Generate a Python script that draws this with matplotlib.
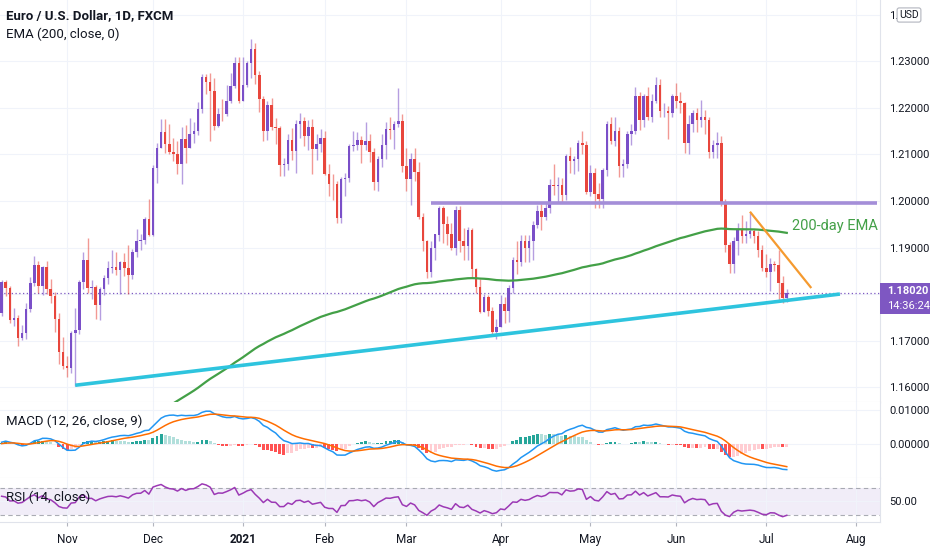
import numpy as np
import pandas as pd
import matplotlib
matplotlib.use("Agg")
import matplotlib.pyplot as plt
from matplotlib.patches import Rectangle
from matplotlib.ticker import FormatStrFormatter, FuncFormatter

# EUR/USD daily candles, FXCM, 9 Oct 2020 .. 8 Jul 2021 (one value per trading day)
opens = [
    1.1760, 1.1826, 1.1814, 1.1745, 1.1748, 1.1705, 1.1717, 1.1768, 1.1823, 1.1862, 1.1817, 1.1859, 1.1811, 1.1795, 1.1747, 1.1675,
    1.1646, 1.1641, 1.1716, 1.1723, 1.1826, 1.1874, 1.1813, 1.1816, 1.1776, 1.1810, 1.1834, 1.1855, 1.1859, 1.1852, 1.1868, 1.1857, 1.1842, 1.1890, 1.1915, 1.1916, 1.1962,
    1.1927, 1.2072, 1.2114, 1.2148, 1.2122, 1.2105, 1.2100, 1.2080, 1.2133, 1.2114, 1.2145, 1.2150, 1.2197, 1.2266, 1.2256, 1.2236, 1.2161, 1.2188, 1.2186, 1.2214, 1.2248, 1.2297,
    1.2215, 1.2250, 1.2297, 1.2326, 1.2271, 1.2220, 1.2151, 1.2207, 1.2158, 1.2156, 1.2078, 1.2079, 1.2131, 1.2107, 1.2165, 1.2172, 1.2140, 1.2160, 1.2111, 1.2123,
    1.2136, 1.2059, 1.2037, 1.2036, 1.1963, 1.2047, 1.2049, 1.2118, 1.2120, 1.2132, 1.2120, 1.2130, 1.2105, 1.2040, 1.2090, 1.2120, 1.2155, 1.2152, 1.2166, 1.2173,
    1.2075, 1.2048, 1.2090, 1.2063, 1.1965, 1.1915, 1.1848, 1.1900, 1.1928, 1.1985, 1.1951, 1.1930, 1.1900, 1.1980, 1.1915, 1.1904, 1.1938, 1.1853, 1.1815, 1.1762, 1.1794, 1.1763, 1.1718,
    1.1730, 1.1778, 1.1763, 1.1812, 1.1873, 1.1868, 1.1915, 1.1900, 1.1913, 1.1948, 1.1978, 1.1965, 1.1984, 1.2035, 1.2033, 1.2034, 1.2012, 1.2097, 1.2085, 1.2091, 1.2124, 1.2120,
    1.2019, 1.2061, 1.2015, 1.2005, 1.2066, 1.2165, 1.2130, 1.2150, 1.2075, 1.2080, 1.2145, 1.2150, 1.2225, 1.2175, 1.2226, 1.2180, 1.2215, 1.2250, 1.2193, 1.2193, 1.2190,
    1.2225, 1.2215, 1.2210, 1.2125, 1.2165, 1.2190, 1.2175, 1.2180, 1.2175, 1.2105, 1.2121, 1.2125, 1.1995, 1.1905, 1.1864, 1.1915, 1.1940, 1.1925, 1.1930, 1.1935, 1.1925, 1.1895,
    1.1857, 1.1848, 1.1865, 1.1862, 1.1823, 1.1791,
]
highs = [
    1.1831, 1.1830, 1.1817, 1.1771, 1.1754, 1.1734, 1.1780, 1.1837, 1.1881, 1.1871, 1.1860, 1.1871, 1.1833, 1.1805, 1.1760, 1.1707,
    1.1667, 1.1720, 1.1770, 1.1830, 1.1891, 1.1920, 1.1830, 1.1820, 1.1815, 1.1840, 1.1870, 1.1894, 1.1890, 1.1870, 1.1888, 1.1906, 1.1897, 1.1940, 1.1930, 1.1965, 1.2004,
    1.2077, 1.2125, 1.2176, 1.2177, 1.2166, 1.2135, 1.2128, 1.2160, 1.2164, 1.2178, 1.2170, 1.2212, 1.2273, 1.2272, 1.2275, 1.2265, 1.2200, 1.2220, 1.2250, 1.2276, 1.2310, 1.2309,
    1.2310, 1.2300, 1.2349, 1.2339, 1.2279, 1.2225, 1.2215, 1.2222, 1.2178, 1.2162, 1.2092, 1.2145, 1.2157, 1.2175, 1.2190, 1.2180, 1.2175, 1.2177, 1.2143, 1.2155,
    1.2150, 1.2079, 1.2058, 1.2043, 1.2051, 1.2060, 1.2122, 1.2150, 1.2148, 1.2140, 1.2169, 1.2145, 1.2114, 1.2097, 1.2143, 1.2169, 1.2180, 1.2171, 1.2243, 1.2188,
    1.2113, 1.2104, 1.2113, 1.2084, 1.1975, 1.1917, 1.1913, 1.1929, 1.1990, 1.1990, 1.1968, 1.1952, 1.1989, 1.1990, 1.1942, 1.1945, 1.1941, 1.1857, 1.1832, 1.1800, 1.1799, 1.1773, 1.1746,
    1.1797, 1.1793, 1.1820, 1.1880, 1.1914, 1.1927, 1.1928, 1.1928, 1.1958, 1.1991, 1.1994, 1.1995, 1.2048, 1.2079, 1.2052, 1.2049, 1.2100, 1.2116, 1.2096, 1.2132, 1.2150, 1.2128,
    1.2077, 1.2070, 1.2039, 1.2070, 1.2173, 1.2181, 1.2181, 1.2160, 1.2090, 1.2150, 1.2166, 1.2245, 1.2234, 1.2230, 1.2245, 1.2230, 1.2266, 1.2262, 1.2210, 1.2205, 1.2229,
    1.2254, 1.2235, 1.2213, 1.2184, 1.2195, 1.2200, 1.2218, 1.2195, 1.2180, 1.2132, 1.2148, 1.2140, 1.2005, 1.1912, 1.1922, 1.1953, 1.1970, 1.1957, 1.1975, 1.1940, 1.1935, 1.1905,
    1.1886, 1.1877, 1.1870, 1.1895, 1.1839, 1.1810,
]
lows = [
    1.1752, 1.1795, 1.1738, 1.1731, 1.1689, 1.1702, 1.1703, 1.1761, 1.1818, 1.1802, 1.1797, 1.1801, 1.1780, 1.1718, 1.1650, 1.1640,
    1.1622, 1.1631, 1.1602, 1.1715, 1.1810, 1.1802, 1.1790, 1.1746, 1.1745, 1.1797, 1.1821, 1.1845, 1.1840, 1.1801, 1.1838, 1.1800, 1.1832, 1.1880, 1.1895, 1.1908, 1.1925,
    1.1925, 1.2039, 1.2114, 1.2103, 1.2100, 1.2085, 1.2058, 1.2036, 1.2081, 1.2114, 1.2125, 1.2141, 1.2190, 1.2231, 1.2129, 1.2153, 1.2160, 1.2172, 1.2182, 1.2210, 1.2243, 1.2211,
    1.2215, 1.2245, 1.2265, 1.2252, 1.2191, 1.2130, 1.2132, 1.2153, 1.2123, 1.2054, 1.2054, 1.2066, 1.2088, 1.2060, 1.2135, 1.2118, 1.2109, 1.2058, 1.2088, 1.2105,
    1.2055, 1.2011, 1.2003, 1.1953, 1.1952, 1.2010, 1.2040, 1.2108, 1.2110, 1.2082, 1.2110, 1.2084, 1.2023, 1.2022, 1.2074, 1.2091, 1.2133, 1.2112, 1.2159, 1.2062,
    1.2022, 1.1991, 1.2043, 1.1962, 1.1892, 1.1835, 1.1836, 1.1873, 1.1913, 1.1910, 1.1905, 1.1895, 1.1883, 1.1890, 1.1873, 1.1874, 1.1835, 1.1803, 1.1760, 1.1762, 1.1753, 1.1712, 1.1704,
    1.1730, 1.1738, 1.1740, 1.1803, 1.1844, 1.1860, 1.1868, 1.1868, 1.1873, 1.1943, 1.1937, 1.1960, 1.1974, 1.2012, 1.1995, 1.1995, 1.2002, 1.2060, 1.2058, 1.2065, 1.2100, 1.2016,
    1.2010, 1.1986, 1.1985, 1.1985, 1.2053, 1.2122, 1.2119, 1.2051, 1.2052, 1.2071, 1.2120, 1.2145, 1.2152, 1.2160, 1.2175, 1.2170, 1.2210, 1.2180, 1.2180, 1.2133, 1.2180,
    1.2200, 1.2190, 1.2103, 1.2100, 1.2148, 1.2148, 1.2160, 1.2145, 1.2093, 1.2093, 1.2092, 1.1990, 1.1890, 1.1846, 1.1846, 1.1885, 1.1910, 1.1910, 1.1920, 1.1910, 1.1880, 1.1850,
    1.1837, 1.1807, 1.1850, 1.1782, 1.1781, 1.1782,
]
closes = [
    1.1826, 1.1814, 1.1745, 1.1748, 1.1705, 1.1717, 1.1768, 1.1823, 1.1862, 1.1817, 1.1859, 1.1811, 1.1795, 1.1747, 1.1675, 1.1646,
    1.1641, 1.1716, 1.1723, 1.1826, 1.1874, 1.1813, 1.1816, 1.1776, 1.1810, 1.1834, 1.1855, 1.1859, 1.1852, 1.1868, 1.1857, 1.1842, 1.1890, 1.1915, 1.1916, 1.1962, 1.1927,
    1.2072, 1.2114, 1.2148, 1.2122, 1.2105, 1.2100, 1.2080, 1.2133, 1.2114, 1.2145, 1.2150, 1.2197, 1.2266, 1.2256, 1.2236, 1.2161, 1.2188, 1.2186, 1.2214, 1.2248, 1.2297, 1.2215,
    1.2250, 1.2297, 1.2326, 1.2271, 1.2220, 1.2151, 1.2207, 1.2158, 1.2156, 1.2078, 1.2079, 1.2131, 1.2107, 1.2165, 1.2172, 1.2140, 1.2160, 1.2111, 1.2123, 1.2136,
    1.2059, 1.2037, 1.2036, 1.1963, 1.2047, 1.2049, 1.2118, 1.2120, 1.2132, 1.2120, 1.2130, 1.2105, 1.2040, 1.2090, 1.2120, 1.2155, 1.2152, 1.2166, 1.2173, 1.2075,
    1.2048, 1.2090, 1.2063, 1.1965, 1.1915, 1.1848, 1.1900, 1.1928, 1.1985, 1.1951, 1.1930, 1.1900, 1.1980, 1.1915, 1.1904, 1.1938, 1.1853, 1.1815, 1.1762, 1.1794, 1.1763, 1.1718, 1.1730,
    1.1778, 1.1763, 1.1812, 1.1873, 1.1868, 1.1915, 1.1900, 1.1913, 1.1948, 1.1978, 1.1965, 1.1984, 1.2035, 1.2033, 1.2034, 1.2012, 1.2097, 1.2085, 1.2091, 1.2124, 1.2120, 1.2019,
    1.2061, 1.2015, 1.2005, 1.2066, 1.2165, 1.2130, 1.2150, 1.2075, 1.2080, 1.2145, 1.2150, 1.2225, 1.2175, 1.2226, 1.2180, 1.2215, 1.2250, 1.2193, 1.2193, 1.2190, 1.2225,
    1.2215, 1.2210, 1.2125, 1.2165, 1.2190, 1.2175, 1.2180, 1.2175, 1.2105, 1.2121, 1.2125, 1.1995, 1.1905, 1.1864, 1.1915, 1.1940, 1.1925, 1.1930, 1.1935, 1.1925, 1.1895, 1.1857,
    1.1848, 1.1865, 1.1862, 1.1823, 1.1791, 1.1802,
]

# indicator state carried in from before the visible window
ema200_start = 1.1405
ema12_start = 1.1760
ema26_start = 1.1760
rsi_gain_start = 0.0025
rsi_loss_start = 0.0022

# drawings on the chart: (date, price)
support_line = [("2020-11-04", 1.1604), ("2021-07-27", 1.1800)]
resistance_line = [("2021-03-09", 1.1995), ("2021-08-09", 1.1995)]
falling_line = [("2021-06-25", 1.1977), ("2021-07-16", 1.1813)]

month_starts = ["2020-11-01", "2020-12-01", "2021-01-01", "2021-02-01", "2021-03-01",
                "2021-04-01", "2021-05-01", "2021-06-01", "2021-07-01", "2021-08-01"]
month_labels = ["Nov", "Dec", "2021", "Feb", "Mar", "Apr", "May", "Jun", "Jul", "Aug"]
price_ticks = [1.16, 1.17, 1.18, 1.19, 1.20, 1.21, 1.22, 1.23, 1.24]

# trading calendar (FXCM skips Christmas and New Year)
dates = pd.bdate_range("2020-10-09", "2021-09-30")
dates = dates[~dates.isin(pd.to_datetime(["2020-12-25", "2021-01-01"]))]
n = len(closes)
xs = np.arange(n)


def bar_of(day):
    return int(np.searchsorted(dates, pd.Timestamp(day)))


def ema(values, span, start):
    a = 2.0 / (span + 1)
    out, prev = [], start
    for v in values:
        prev = prev + a * (v - prev)
        out.append(prev)
    return np.array(out)


def rsi(values, first_open, length, g0, l0):
    ag, al, prev = g0, l0, first_open
    out = []
    for v in values:
        ch = v - prev
        ag = (ag * (length - 1) + max(ch, 0)) / length
        al = (al * (length - 1) + max(-ch, 0)) / length
        out.append(100 - 100 / (1 + ag / al))
        prev = v
    return np.array(out)


def price_label(v, pos):
    # 1.18 sits under the last-price tag, 1.24 under the currency badge
    if abs(v - 1.18) < 1e-6:
        return ""
    if abs(v - 1.24) < 1e-6:
        return "1."
    return f"{v:.5f}"


o = np.array(opens)
h = np.array(highs)
l = np.array(lows)
c = np.array(closes)

ema200 = ema(c, 200, ema200_start)
macd = ema(c, 12, ema12_start) - ema(c, 26, ema26_start)
signal = ema(macd, 9, 0.0)
hist = macd - signal
rsi14 = rsi(c, opens[0], 14, rsi_gain_start, rsi_loss_start)

plt.rcParams["font.family"] = ["Liberation Sans Narrow", "Roboto", "DejaVu Sans"]
W, H = 932, 550
fig = plt.figure(figsize=(W / 100, H / 100), dpi=100)
fig.patch.set_facecolor("white")

pw = 880 / W
ax = fig.add_axes([0, (H - 402) / H, pw, 402 / H])
axm = fig.add_axes([0, (H - 478) / H, pw, 76 / H], sharex=ax)
axr = fig.add_axes([0, (H - 522) / H, pw, 44 / H], sharex=ax)

sep = "#e0e3eb"
grid = "#f0f3fa"
txt = "#131722"
tick_x = [bar_of(d) for d in month_starts]

for a in (ax, axm, axr):
    for s in ("top", "left"):
        a.spines[s].set_visible(False)
    a.spines["right"].set_color(sep)
    a.spines["bottom"].set_color(sep)
    a.yaxis.tick_right()
    a.tick_params(axis="y", length=0, pad=6.5, labelsize=8, colors=txt)
    a.set_xticks(tick_x)
    a.grid(True, color=grid, lw=0.8)
    a.set_axisbelow(True)

ax.set_xlim(-0.4, 214.8)
ax.tick_params(axis="x", length=0, labelbottom=False)
axm.tick_params(axis="x", length=0, labelbottom=False)
axr.tick_params(axis="x", length=3, color="#b2b5be", pad=5, labelsize=8.5, colors=txt)
axr.set_xticklabels(month_labels)
for lab in axr.get_xticklabels():
    if lab.get_text() == "2021":
        lab.set_fontweight("bold")

# ---- price panel ----
ax.set_ylim(1.1568, 1.2432)
ax.set_yticks(price_ticks)
ax.yaxis.set_major_formatter(FuncFormatter(price_label))

up = c >= o
up_col, dn_col = "#7a4fc8", "#e8463c"
cols = np.where(up, up_col, dn_col)
ax.vlines(xs, l, h, colors=cols, lw=1.0, alpha=0.55, zorder=2)
body_lo = np.minimum(o, c)
body_h = np.maximum(np.abs(c - o), 0.00015)
ax.bar(xs, body_h, bottom=body_lo, width=0.62, color=cols, lw=0, zorder=3)

ax.plot(xs, ema200, color="#43a047", lw=1.6, zorder=4)

for line, col, lw in ((support_line, "#2ec4de", 2.6),
                      (resistance_line, "#a48ed8", 2.6),
                      (falling_line, "#f59a2f", 1.6)):
    ax.plot([bar_of(line[0][0]), bar_of(line[1][0])], [line[0][1], line[1][1]],
            color=col, lw=lw, solid_capstyle="butt", zorder=5)

ax.axhline(c[-1], color="#7e57c2", lw=0.9, ls=(0, (1, 2)), zorder=1)
ax.text(n + 0.2, 1.1946, "200-day EMA", color="#43a047", fontsize=10.5,
        va="center", ha="left", zorder=6)

# ---- MACD panel ----
axm.set_ylim(-0.0100, 0.01235)
axm.set_yticks([0.0, 0.01])
axm.yaxis.set_major_formatter(FormatStrFormatter("%.5f"))
prev_h = np.concatenate([[0.0], hist[:-1]])
hcols = np.where(hist >= 0,
                 np.where(hist >= prev_h, "#26a69a", "#b2dfdb"),
                 np.where(hist < prev_h, "#ff5252", "#ffcdd2"))
axm.bar(xs, hist, width=0.72, color=hcols, lw=0, zorder=2)
axm.plot(xs, macd, color="#2196f3", lw=1.1, zorder=3)
axm.plot(xs, signal, color="#ff6d00", lw=1.1, zorder=3)

# ---- RSI panel ----
axr.set_ylim(19.6, 84.8)
axr.set_yticks([50])
axr.yaxis.set_major_formatter(FormatStrFormatter("%.2f"))
axr.axhspan(30, 70, color="#7e57c2", alpha=0.1, lw=0, zorder=0)
for lvl in (30, 70):
    axr.axhline(lvl, color="#9598a1", lw=0.8, ls=(0, (4, 3)), alpha=0.8, zorder=1)
axr.plot(xs, rsi14, color="#9c39b5", lw=1.1, zorder=3)

# ---- legends ----
fig.text(6 / W, 1 - 16 / H, "Euro / U.S. Dollar, 1D, FXCM", fontsize=9.5,
         fontweight="bold", color=txt, va="center")
fig.text(6 / W, 1 - 34 / H, "EMA (200, close, 0)", fontsize=9.5, color=txt, va="center")
fig.text(6 / W, 1 - 421 / H, "MACD (12, 26, close, 9)", fontsize=9.5, color=txt, va="center")
fig.text(6 / W, 1 - 497 / H, "RSI (14, close)", fontsize=9.5, color=txt, va="center")

# currency badge and last-price label on the scale
fig.text(909 / W, 1 - 15 / H, "USD", fontsize=7.5, color=txt, ha="center", va="center",
         bbox=dict(boxstyle="round,pad=0.2", fc="white", ec="#b2b5be", lw=0.8))
fig.patches.append(Rectangle((880 / W, 1 - 314 / H), 50 / W, 31 / H,
                             transform=fig.transFigure, fc="#7e57c2", ec="none"))
fig.text(887 / W, 1 - 291 / H, f"{c[-1]:.5f}", fontsize=8, color="white",
         fontweight="bold", va="center")
fig.text(887 / W, 1 - 306 / H, "14:36:24", fontsize=8, color="white", va="center")

fig.savefig("out.png", dpi=100, facecolor="white")
